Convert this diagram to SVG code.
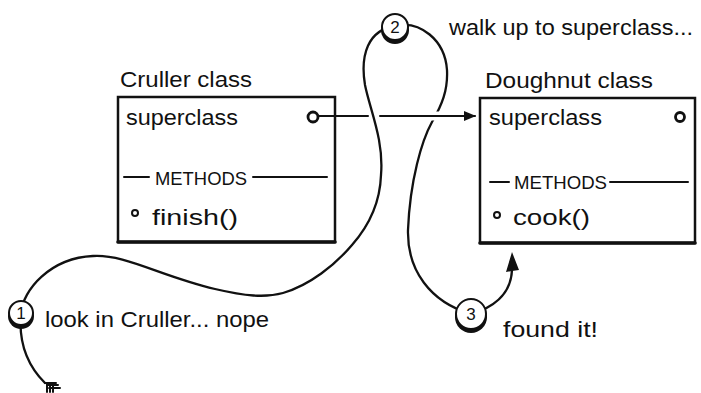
<svg xmlns="http://www.w3.org/2000/svg" width="701" height="393" viewBox="0 0 701 393">
<style>
text{font-family:"Liberation Sans",Arial,sans-serif;fill:#111}
.t{font-size:22px}
.m{font-size:18px}
.n{font-size:17px;text-anchor:middle}
.box{fill:#fff;stroke:#111;stroke-width:2.5}
.bot{stroke:#111;stroke-width:3.5;stroke-linecap:round}
.ln{fill:none;stroke:#111;stroke-width:2;stroke-linecap:round}
.cv{fill:none;stroke:#111;stroke-width:2.3;stroke-linecap:round;stroke-linejoin:round}
.dot{fill:#fff;stroke:#111;stroke-width:2.8}
.bul{fill:#fff;stroke:#111;stroke-width:2}
.sh{fill:#111}
.ci{fill:#fff;stroke:#111;stroke-width:2}
</style>
<defs>
<marker id="ah" viewBox="0 0 12 10" refX="11" refY="5" markerWidth="12" markerHeight="10" markerUnits="userSpaceOnUse" orient="auto">
<path d="M0,0 L12,5 L0,10 Z" fill="#111"/>
</marker>
</defs>

<g id="cruller">
<text class="t" x="120" y="87" textLength="132" lengthAdjust="spacingAndGlyphs">Cruller class</text>
<rect class="box" x="118" y="97" width="217" height="145"/>
<line class="bot" x1="118" y1="242" x2="335" y2="242"/>
<text class="t" x="126" y="125" textLength="112" lengthAdjust="spacingAndGlyphs">superclass</text>
<line class="ln" x1="124" y1="177" x2="149" y2="177"/>
<text class="m" x="155" y="185" textLength="92" lengthAdjust="spacingAndGlyphs">METHODS</text>
<line class="ln" x1="253" y1="177" x2="327" y2="177"/>
<circle class="bul" cx="135" cy="213" r="3"/>
<text class="t" x="152" y="225" textLength="86" lengthAdjust="spacingAndGlyphs">finish()</text>
</g>

<g id="doughnut">
<text class="t" x="485" y="88" textLength="168" lengthAdjust="spacingAndGlyphs">Doughnut class</text>
<rect class="box" x="480" y="98" width="215" height="145"/>
<line class="bot" x1="480" y1="243" x2="695" y2="243"/>
<text class="t" x="489" y="125" textLength="113" lengthAdjust="spacingAndGlyphs">superclass</text>
<circle class="dot" cx="680" cy="117" r="4.5"/>
<line class="ln" x1="490" y1="182" x2="509" y2="182"/>
<text class="m" x="514" y="189" textLength="93" lengthAdjust="spacingAndGlyphs">METHODS</text>
<line class="ln" x1="610" y1="182" x2="688" y2="182"/>
<circle class="bul" cx="497" cy="215" r="3"/>
<text class="t" x="513" y="225" textLength="77" lengthAdjust="spacingAndGlyphs">cook()</text>
</g>

<g id="connectors">
<path class="cv" d="M45 383 C30 368 18 345 21 313 C23 290 50 258 93 256 C125 254 160 276 215 289 C245 296 265 298 283 293 C310 285 335 265 352 245 C367 228 380 205 381 175 C384 140 370 110 365 85 C360 55 368 30 395 26 C420 20 445 40 447 70 C448 90 442 105 432 122 C422 140 410 180 408 230 C407 270 430 302 471 314 C492 308 511 295 512 270"/>
<path d="M512 271 L506 272 L512 252 L519 270 Z" fill="#111"/>
<path class="ln" stroke-width="1.5" d="M45 383 L56 383 M47 385 L58 385 M49 388 L60 388 M47 383 L47 392 M50 385 L50 392 M53 386 L53 392"/>
<circle class="dot" cx="313" cy="117" r="5"/>
<line class="ln" x1="318" y1="116" x2="368" y2="116"/>
<line x1="424" y1="116" x2="446" y2="116" stroke="#fff" stroke-width="9"/>
<line class="ln" x1="380" y1="116" x2="475" y2="116" marker-end="url(#ah)"/>
</g>

<g id="step1">
<circle class="sh" cx="21" cy="316" r="13"/>
<circle class="ci" cx="21" cy="313" r="12"/>
<text class="n" x="21" y="319">1</text>
<text class="t" x="45" y="327" textLength="224" lengthAdjust="spacingAndGlyphs">look in Cruller... nope</text>
</g>

<g id="step2">
<circle class="sh" cx="395" cy="30" r="14"/>
<circle class="ci" cx="395" cy="27" r="13"/>
<text class="n" x="395" y="33">2</text>
<text class="t" x="449" y="35" textLength="244" lengthAdjust="spacingAndGlyphs">walk up to superclass...</text>
</g>

<g id="step3">
<circle class="sh" cx="471" cy="317" r="16"/>
<circle class="ci" cx="471" cy="314" r="15"/>
<text class="n" x="471" y="320">3</text>
<text class="t" x="503" y="337" textLength="95" lengthAdjust="spacingAndGlyphs">found it!</text>
</g>
</svg>
